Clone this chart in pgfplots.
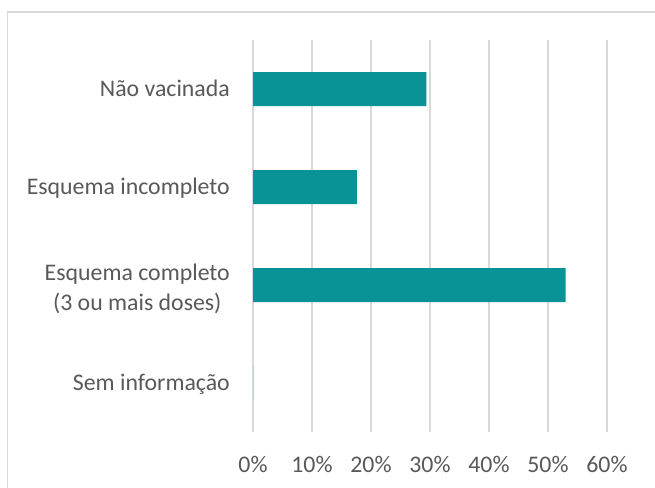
\documentclass[border=0pt]{standalone}
\usepackage{pgfplots}
\pgfplotsset{compat=1.18}
\usepackage{fontspec}
\setmainfont{Carlito}
\definecolor{barteal}{RGB}{10,147,150}
\definecolor{txtgray}{RGB}{89,89,89}
\definecolor{gridgray}{RGB}{217,217,217}
\begin{document}
\begin{tikzpicture}
\useasboundingbox (0,0) rectangle (655bp,488bp);
\fill[white] (0,0) rectangle (655bp,488bp);
\draw[gridgray, line width=1.5bp] (7.5bp,0) -- (7.5bp,476bp) -- (655bp,476bp);
\begin{axis}[
  at={(253bp,56bp)}, anchor=south west,
  scale only axis, width=354bp, height=392bp,
  xbar, bar width=34bp,
  xmin=0, xmax=60, ymin=-0.5, ymax=3.5, y dir=reverse,
  xtick={0,10,...,60}, ytick={0,1,2,3},
  yticklabels={{Não vacinada},{Esquema incompleto},{\raisebox{11.8bp}{\begin{tabular}[t]{@{}c@{}}Esquema completo\\(3 ou mais doses)\end{tabular}}},{Sem informação}},
  xticklabel={\pgfmathprintnumber{\tick}\%},
  axis line style={draw=none},
  major tick length=0pt,
  xmajorgrids, grid style={gridgray, line width=1.5bp},
  tick label style={font=\fontsize{23.9}{30.1}\selectfont, text=txtgray, inner sep=0pt},
  xticklabel style={anchor=base, yshift=-40.7bp},
  yticklabel style={anchor=base east, xshift=-23bp, yshift=-7.7bp},
  /pgf/number format/assume math mode=true,
]
\addplot[fill=barteal, draw=none] coordinates {(29.4,0) (17.6,1) (53.0,2) (0,3)};
\end{axis}
\end{tikzpicture}
\end{document}
